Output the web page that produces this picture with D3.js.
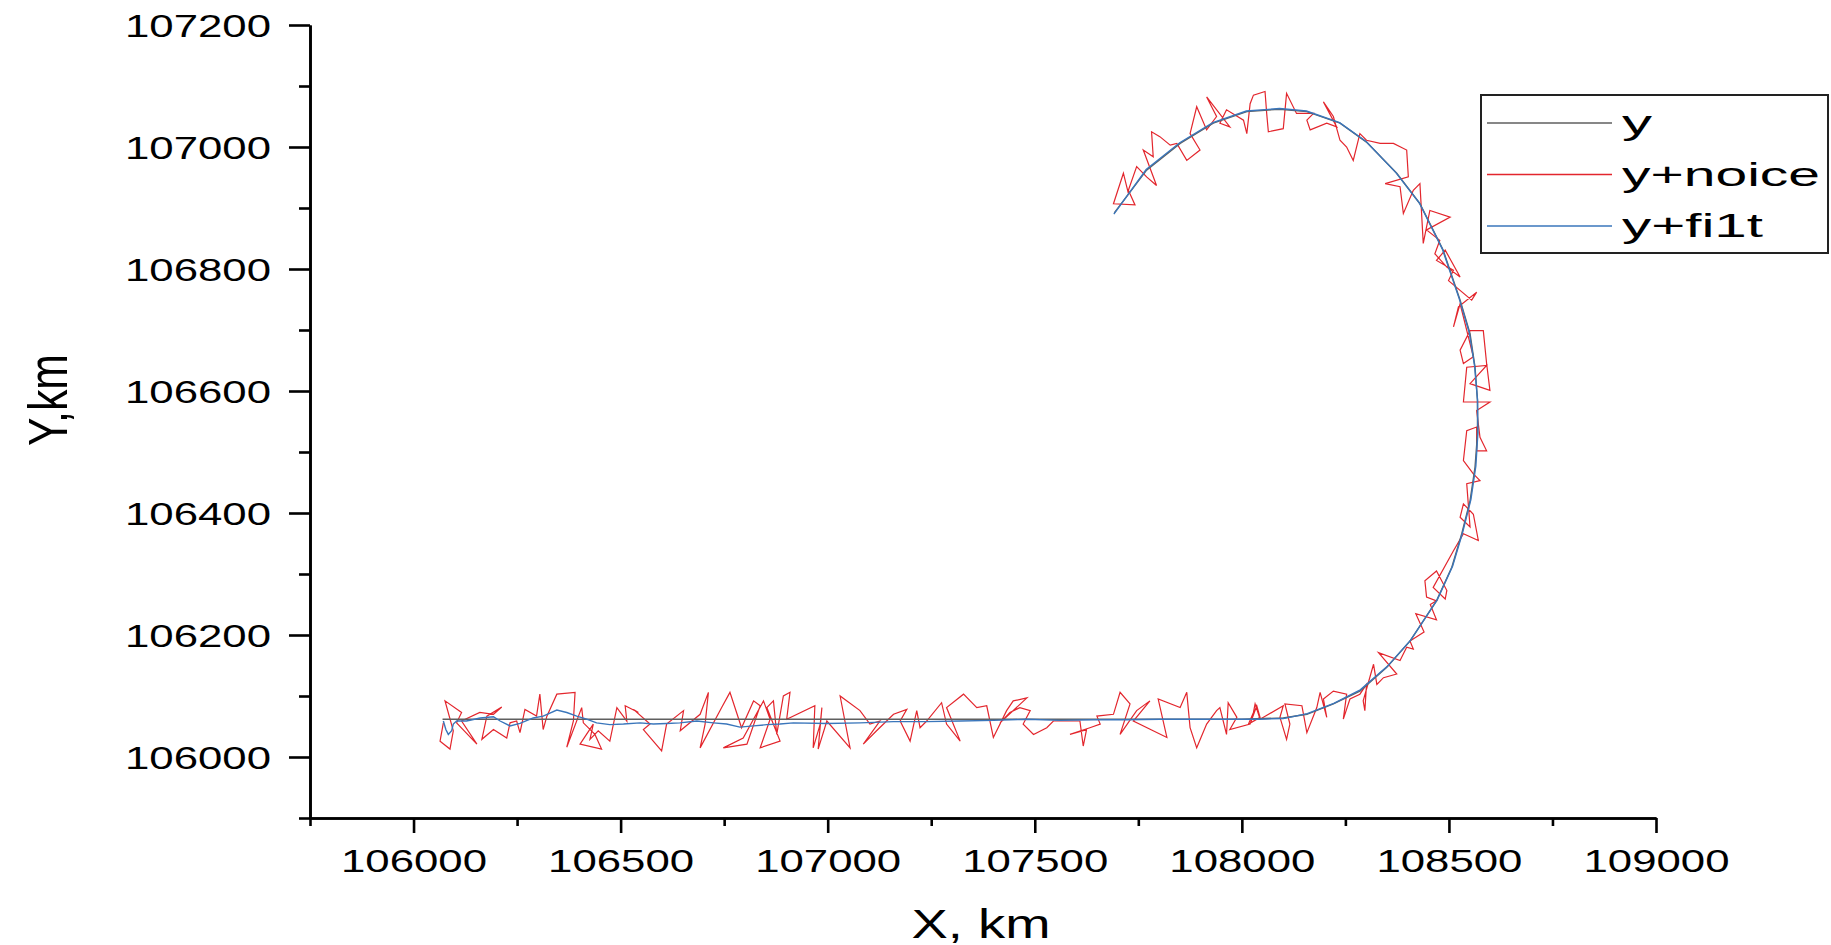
<!DOCTYPE html>
<html>
<head>
<meta charset="utf-8">
<script src="https://cdnjs.cloudflare.com/ajax/libs/d3/7.8.5/d3.min.js"></script>
<style>
	body { margin: 0; background: #fff; }
	svg { display: block; font-family: "Liberation Sans", Arial, sans-serif; }
	.axis path, .axis line { stroke: #000; stroke-width: 2.6; }
	.axis text { fill: #000; }
</style>
</head>
<body>
<main></main>
<script>
// axis ticks
const xMajor = [106000, 106500, 107000, 107500, 108000, 108500, 109000];
const xMinor = [105750, 106250, 106750, 107250, 107750, 108250, 108750];
const yMajor = [106000, 106200, 106400, 106600, 106800, 107000, 107200];
const yMinor = [105900, 106100, 106300, 106500, 106700, 106900, 107100];

const seriesNames = ['y', 'y+noice', 'y+fi1t'];
const seriesColors = ['#5f5f5f', '#e3262d', '#3a76bb'];

// y (true track)
const trueXY = [
	[106070, 106062], [106600, 106062], [107200, 106062], [108000, 106062], [108100, 106064],
	[108157, 106070], [108221, 106087], [108285, 106108], [108350, 106147], [108406, 106190],
	[108470, 106256], [108507, 106311], [108531, 106366], [108551, 106420], [108563, 106475],
	[108569, 106530], [108569, 106584], [108563, 106639], [108551, 106694], [108527, 106749],
	[108486, 106831], [108430, 106907], [108374, 106957], [108301, 107008], [108237, 107039],
	[108157, 107058], [108092, 107062], [108012, 107058], [107931, 107039], [107851, 107006],
	[107770, 106962], [107692, 106892]
];

// y+noice
const noiseXY = [
	[106072, 106056], [106064, 106026], [106088, 106013], [106096, 106043], [106076, 106092],
	[106116, 106073], [106104, 106056], [106153, 106021], [106116, 106059], [106160, 106073],
	[106193, 106070], [106213, 106082], [106177, 106067], [106165, 106029], [106193, 106045],
	[106225, 106031], [106233, 106056], [106249, 106059], [106257, 106040], [106269, 106078],
	[106297, 106067], [106305, 106103], [106313, 106045], [106322, 106067], [106346, 106103],
	[106390, 106106], [106386, 106059], [106370, 106016], [106406, 106081], [106410, 106056],
	[106438, 106037], [106454, 106013], [106402, 106021], [106434, 106054], [106426, 106029],
	[106446, 106043], [106474, 106026], [106491, 106081], [106515, 106059], [106511, 106084],
	[106543, 106073], [106531, 106078], [106571, 106054], [106555, 106045], [106599, 106010],
	[106611, 106054], [106652, 106076], [106644, 106043], [106692, 106070], [106712, 106106],
	[106704, 106054], [106692, 106015], [106744, 106081], [106764, 106106], [106792, 106048],
	[106821, 106092], [106837, 106084], [106805, 106021], [106748, 106015], [106796, 106031],
	[106845, 106092], [106861, 106062], [106837, 106015], [106885, 106026],
	[106853, 106081], [106869, 106092], [106877, 106037], [106893, 106100], [106909, 106106],
	[106901, 106062], [106969, 106084], [106965, 106015], [106982, 106054], [106986, 106081],
	[106977, 106013], [106998, 106059], [107054, 106015], [107030, 106100], [107078, 106076],
	[107102, 106054], [107126, 106059], [107086, 106021], [107118, 106043], [107159, 106070],
	[107191, 106078], [107175, 106059], [107199, 106026], [107215, 106076], [107223, 106048],
	[107239, 106059], [107275, 106089], [107287, 106054], [107320, 106026], [107287, 106081],
	[107328, 106103], [107360, 106081], [107384, 106084], [107400, 106032], [107432, 106076],
	[107448, 106092], [107481, 106097], [107416, 106056], [107440, 106073], [107464, 106081],
	[107489, 106076], [107472, 106054], [107497, 106037], [107529, 106048], [107545, 106059],
	[107609, 106059], [107617, 106018], [107625, 106045], [107585, 106037], [107633, 106048],
	[107658, 106054], [107650, 106067], [107690, 106070], [107706, 106106], [107730, 106087],
	[107706, 106037], [107746, 106076], [107778, 106092], [107738, 106059], [107819, 106032],
	[107798, 106095], [107851, 106081], [107867, 106106], [107875, 106048], [107891, 106015],
	[107915, 106054], [107939, 106076], [107947, 106081], [107963, 106037], [107967, 106089],
	[107988, 106065], [107971, 106045], [108020, 106054], [108036, 106084], [108044, 106065],
	[108016, 106054], [108028, 106073], [108032, 106087], [108044, 106062], [108100, 106084],
	[108092, 106065], [108108, 106029], [108116, 106054], [108104, 106087], [108145, 106084],
	[108157, 106040], [108181, 106081], [108189, 106106], [108205, 106065], [108197, 106095],
	[108221, 106108], [108253, 106103], [108245, 106062], [108261, 106095], [108285, 106103],
	[108301, 106119], [108297, 106076], [108293, 106092], [108318, 106152], [108326, 106119],
	[108342, 106130], [108374, 106136], [108330, 106171], [108382, 106158], [108398, 106180],
	[108414, 106177], [108406, 106190], [108440, 106205], [108420, 106235], [108470, 106225],
	[108455, 106250], [108470, 106256], [108446, 106262], [108442, 106289], [108470, 106305],
	[108495, 106273], [108491, 106259], [108462, 106278], [108511, 106338], [108535, 106366],
	[108571, 106355], [108559, 106398], [108535, 106415], [108527, 106393], [108551, 106377],
	[108543, 106448], [108575, 106453], [108559, 106464], [108535, 106486], [108543, 106535],
	[108567, 106541], [108567, 106502], [108591, 106502], [108575, 106524], [108567, 106568],
	[108599, 106582], [108535, 106582], [108543, 106639], [108591, 106642], [108551, 106612],
	[108599, 106601], [108591, 106645], [108583, 106699], [108551, 106699], [108527, 106667],
	[108535, 106645], [108559, 106656], [108527, 106743], [108511, 106705], [108523, 106738],
	[108567, 106762], [108555, 106749], [108499, 106781], [108511, 106798], [108470, 106814],
	[108491, 106831], [108527, 106787], [108495, 106803], [108466, 106825], [108478, 106847],
	[108446, 106864], [108503, 106885], [108454, 106896], [108438, 106842], [108430, 106940],
	[108414, 106929], [108390, 106891], [108382, 106935], [108346, 106940], [108402, 106951],
	[108398, 106995], [108366, 107006], [108334, 107006], [108301, 107011], [108285, 107022],
	[108269, 106978], [108253, 107000], [108237, 107011], [108221, 107050], [108197, 107074],
	[108229, 107033], [108205, 107039], [108165, 107028], [108157, 107044], [108173, 107055],
	[108132, 107055], [108108, 107088], [108100, 107030], [108064, 107025], [108060, 107055],
	[108056, 107091], [108028, 107085], [108020, 107071], [108012, 107022], [108004, 107044],
	[107963, 107061], [107947, 107039], [107971, 107033], [107915, 107082], [107939, 107050],
	[107915, 107028], [107891, 107066], [107875, 107022], [107899, 106995], [107867, 106978],
	[107843, 107006], [107827, 107003], [107802, 107017], [107782, 107025], [107786, 106984],
	[107762, 106995], [107794, 106937], [107770, 106951], [107746, 106968], [107726, 106929],
	[107742, 106905], [107690, 106907], [107714, 106957], [107726, 106924]
];

// y+fi1t
const fitXY = [
	[106072, 106059], [106078, 106045], [106084, 106037], [106092, 106043], [106096, 106054],
	[106104, 106059], [106128, 106059], [106161, 106064], [106193, 106066], [106209, 106059],
	[106233, 106051], [106257, 106055], [106289, 106064], [106313, 106067], [106346, 106077],
	[106370, 106073], [106394, 106067], [106418, 106062], [106442, 106056], [106474, 106053],
	[106507, 106054], [106547, 106056], [106579, 106054], [106611, 106055], [106643, 106056],
	[106684, 106059], [106724, 106056], [106756, 106054], [106788, 106049], [106821, 106051],
	[106853, 106053], [106885, 106054], [106917, 106056], [106998, 106055], [107078, 106056],
	[107159, 106058], [107239, 106058], [107320, 106059], [107400, 106060], [107481, 106062],
	[107561, 106060], [107642, 106061], [107722, 106061], [107802, 106062], [107883, 106062],
	[107963, 106062], [108044, 106062], [108100, 106063], [108158, 106071], [108222, 106088],
	[108286, 106110], [108352, 106149], [108408, 106192], [108472, 106258], [108509, 106313],
	[108533, 106368], [108553, 106422], [108565, 106477], [108570, 106532], [108569, 106586],
	[108562, 106641], [108549, 106696], [108525, 106751], [108484, 106833], [108428, 106909],
	[108372, 106958], [108300, 107009], [108236, 107040], [108156, 107059], [108091, 107063],
	[108011, 107059], [107930, 107040], [107850, 107007], [107769, 106963], [107691, 106890]
];

const W = 1831;
const H = 945;
const plotLeft = 310, plotRight = 1656, plotTop = 25, plotBottom = 818;

const svg = d3.select('main')
	.append('svg')
	.attr('width', W)
	.attr('height', H);

svg.append('rect').attr('width', W).attr('height', H).attr('fill', '#fff');

const xScale = d3.scaleLinear()
	.domain([105750, 109000])
	.range([plotLeft, plotRight]);

const yScale = d3.scaleLinear()
	.domain([105900, 107200])
	.range([plotBottom, plotTop]);

// minor ticks first, then major ticks + labels
svg.append('g')
	.attr('class', 'axis')
	.attr('transform', `translate(0, ${plotBottom})`)
	.call(d3.axisBottom(xScale).tickValues(xMinor).tickSize(8).tickSizeOuter(0).tickFormat(''));

const xAxis = svg.append('g')
	.attr('class', 'axis')
	.attr('transform', `translate(0, ${plotBottom})`)
	.call(d3.axisBottom(xScale).tickValues(xMajor).tickSize(15).tickSizeOuter(0).tickFormat(d3.format('d')));

xAxis.selectAll('text')
	.attr('y', 54)
	.attr('dy', 0)
	.attr('font-size', 32)
	.attr('textLength', 146)
	.attr('lengthAdjust', 'spacingAndGlyphs');

svg.append('g')
	.attr('class', 'axis')
	.attr('transform', `translate(${plotLeft}, 0)`)
	.call(d3.axisLeft(yScale).tickValues(yMinor).tickSize(11).tickSizeOuter(0).tickFormat(''));

const yAxis = svg.append('g')
	.attr('class', 'axis')
	.attr('transform', `translate(${plotLeft}, 0)`)
	.call(d3.axisLeft(yScale).tickValues(yMajor).tickSize(21).tickSizeOuter(0).tickFormat(d3.format('d')));

yAxis.selectAll('text')
	.attr('x', -39)
	.attr('dy', '0.36em')
	.attr('font-size', 32)
	.attr('textLength', 146)
	.attr('lengthAdjust', 'spacingAndGlyphs');

svg.selectAll('.axis .domain').attr('stroke-width', 2.8);

// tracks
const line = d3.line()
	.x((d) => xScale(d[0]))
	.y((d) => yScale(d[1]));

const tracks = [
	{ data: noiseXY, color: seriesColors[1], w: 1.2 },
	{ data: trueXY, color: seriesColors[0], w: 1.4 },
	{ data: fitXY, color: seriesColors[2], w: 1.4 }
];

svg.append('g')
	.selectAll('path')
	.data(tracks)
	.enter()
	.append('path')
	.attr('d', (t) => line(t.data))
	.attr('fill', 'none')
	.attr('stroke', (t) => t.color)
	.attr('stroke-width', (t) => t.w)
	.attr('stroke-linejoin', 'miter');

// axis titles
svg.append('text')
	.attr('x', 981)
	.attr('y', 938)
	.attr('text-anchor', 'middle')
	.attr('font-size', 40)
	.attr('textLength', 139)
	.attr('lengthAdjust', 'spacingAndGlyphs')
	.text('X, km');

svg.append('text')
	.attr('transform', 'translate(67, 400) scale(1.4, 1) rotate(-90)')
	.attr('text-anchor', 'middle')
	.attr('font-size', 40)
	.attr('textLength', 92)
	.attr('lengthAdjust', 'spacingAndGlyphs')
	.text('Y,km');

// legend
const legend = svg.append('g');

legend.append('rect')
	.attr('x', 1481)
	.attr('y', 95)
	.attr('width', 347)
	.attr('height', 158)
	.attr('fill', '#fff')
	.attr('stroke', '#222')
	.attr('stroke-width', 2);

const legendLen = [30, 198, 141];

const rows = legend.selectAll('.row')
	.data(seriesNames)
	.enter()
	.append('g')
	.attr('transform', (d, i) => `translate(0, ${i * 51.5})`);

rows.append('line')
	.attr('x1', 1487)
	.attr('x2', 1612)
	.attr('y1', 123)
	.attr('y2', 123)
	.attr('stroke', (d, i) => seriesColors[i])
	.attr('stroke-width', 1.5);

rows.append('text')
	.attr('x', 1622)
	.attr('y', 134)
	.attr('font-size', 34)
	.attr('textLength', (d, i) => legendLen[i])
	.attr('lengthAdjust', 'spacingAndGlyphs')
	.text((d) => d);
</script>
</body>
</html>
